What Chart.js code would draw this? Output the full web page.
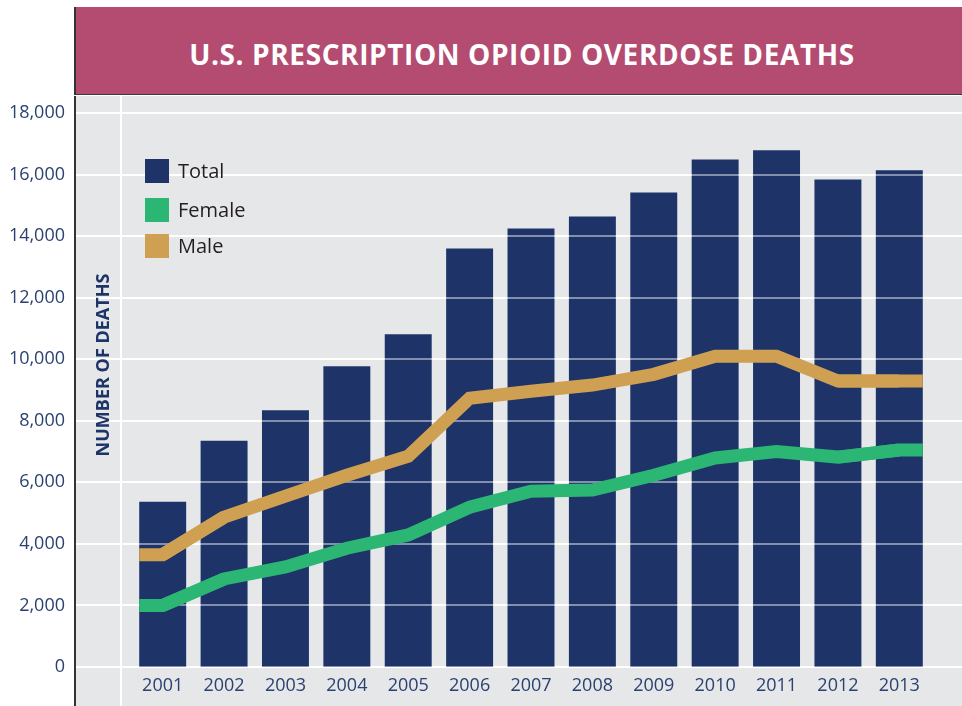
<!DOCTYPE html>
<html>
<head>
<meta charset="utf-8">
<script src="https://cdn.jsdelivr.net/npm/chart.js@4/dist/chart.umd.min.js"></script>
<style>
  body { margin: 0; background: #fff; font-family: 'Open Sans', sans-serif; }
  #wrap { position: relative; width: 962px; height: 706px; overflow: hidden; }
  #banner {
    position: absolute; left: 74px; top: 7px; width: 888px; height: 88px;
    background: #b44c72; border-left: 2px solid #333; border-bottom: 1px solid #3a3a3a;
    box-sizing: border-box; color: #fff; font-weight: 700; font-size: 28px;
    letter-spacing: 0.6px; text-align: center; line-height: 88px; padding-left: 6px; padding-top: 3px;
  }
  #panel {
    position: absolute; left: 74px; top: 96px; width: 888px; height: 610px;
    background: #e6e7e9; border-left: 2px solid #333; box-sizing: border-box;
  }
  #vline { position: absolute; left: 120px; top: 96px; width: 2px; height: 610px; background: #fff; }
  canvas { position: absolute; left: 0; top: 0; }
</style>
</head>
<body>
<div id="wrap">
  <div id="banner">U.S. PRESCRIPTION OPIOID OVERDOSE DEATHS</div>
  <div id="panel"></div>
  <div id="vline"></div>
  <canvas id="opioidChart" width="962" height="706"></canvas>
</div>
<script>
const years = ["2001", "2002", "2003", "2004", "2005", "2006", "2007", "2008", "2009", "2010", "2011", "2012", "2013"];
const totalDeaths = [5370, 7350, 8340, 9770, 10810, 13600, 14250, 14640, 15420, 16490, 16790, 15840, 16140];
const femaleDeaths = [2000, 2860, 3250, 3860, 4290, 5190, 5710, 5750, 6230, 6790, 7000, 6820, 7050];
const maleDeaths = [3650, 4870, 5550, 6230, 6850, 8730, 8960, 9160, 9510, 10100, 10100, 9290, 9290];
const yTicks = [0, 2000, 4000, 6000, 8000, 10000, 12000, 14000, 16000, 18000];

const navy = "#1e3469";
const green = "#2bb673";
const tan = "#cfa052";
const tickColor = "#2b4170";

Chart.defaults.font.family = "'Open Sans', sans-serif";

function drawGridLines(chart, color) {
  const ctx = chart.ctx;
  const y = chart.scales.y;
  ctx.save();
  ctx.strokeStyle = color;
  ctx.lineWidth = 2;
  yTicks.forEach(v => {
    const py = Math.round(y.getPixelForValue(v));
    ctx.beginPath();
    ctx.moveTo(76, py);
    ctx.lineTo(962, py);
    ctx.stroke();
  });
  ctx.restore();
}

// carries each line out to the outer edges of the first and last bars
function drawLineEnds(chart, index) {
  const ds = chart.data.datasets[index];
  const pts = chart.getDatasetMeta(index).data;
  const half = chart.getDatasetMeta(0).data[0].width / 2;
  const ctx = chart.ctx;
  const a = pts[0], b = pts[1];
  const c = pts[pts.length - 2], d = pts[pts.length - 1];
  ctx.save();
  ctx.strokeStyle = ds.borderColor;
  ctx.lineWidth = ds.borderWidth;
  ctx.lineJoin = "miter";
  ctx.beginPath();
  ctx.moveTo(a.x - half, a.y);
  ctx.lineTo(a.x, a.y);
  ctx.lineTo(b.x, b.y);
  ctx.stroke();
  ctx.beginPath();
  ctx.moveTo(c.x, c.y);
  ctx.lineTo(d.x, d.y);
  ctx.lineTo(d.x + half, d.y);
  ctx.stroke();
  ctx.restore();
}

const panelPlugin = {
  id: "panelPlugin",
  beforeDatasetsDraw(chart) {
    drawGridLines(chart, "#ffffff");
  },
  beforeDatasetDraw(chart, args) {
    if (args.index > 0) drawLineEnds(chart, args.index);
  },
  afterDatasetDraw(chart, args) {
    if (args.index === 0) drawGridLines(chart, "rgba(255,255,255,0.45)");
  },
  afterDraw(chart) {
    const ctx = chart.ctx;
    ctx.save();
    // legend
    const rows = [0, 1, 2];
    const tops = [159, 198, 234];
    ctx.font = "20px 'Open Sans', sans-serif";
    ctx.textBaseline = "middle";
    rows.forEach((i, k) => {
      const ds = chart.data.datasets[i];
      ctx.fillStyle = ds.legendColor;
      ctx.fillRect(145, tops[k], 24, 24);
      ctx.fillStyle = "#231f20";
      ctx.fillText(ds.label, 178, tops[k] + 13);
    });
    // axis title
    ctx.translate(104, 365);
    ctx.rotate(-Math.PI / 2);
    ctx.font = "bold 18px 'Open Sans', sans-serif";
    ctx.fillStyle = navy;
    ctx.textAlign = "center";
    ctx.fillText("NUMBER OF DEATHS", 0, 0);
    ctx.restore();
  }
};

new Chart(document.getElementById("opioidChart"), {
  type: "bar",
  data: {
    labels: years,
    datasets: [
      {
        label: "Total",
        data: totalDeaths,
        backgroundColor: navy,
        legendColor: navy,
        categoryPercentage: 1,
        barPercentage: 0.765,
        order: 3
      },
      {
        type: "line",
        label: "Female",
        data: femaleDeaths,
        borderColor: green,
        legendColor: green,
        borderWidth: 13,
        pointRadius: 0,
        tension: 0,
        order: 1
      },
      {
        type: "line",
        label: "Male",
        data: maleDeaths,
        borderColor: tan,
        legendColor: tan,
        borderWidth: 13,
        pointRadius: 0,
        tension: 0,
        order: 2
      }
    ]
  },
  options: {
    responsive: false,
    animation: false,
    layout: { padding: { left: 10, right: 32, top: 113, bottom: 0 } },
    plugins: {
      legend: { display: false },
      tooltip: { enabled: false }
    },
    scales: {
      x: {
        grid: { display: false, drawTicks: false },
        border: { display: false },
        ticks: { color: tickColor, font: { size: 18 }, padding: 8 },
        afterFit(scale) { scale.height = 39; }
      },
      y: {
        min: 0,
        max: 18000,
        grid: { display: false, drawTicks: true, tickLength: 63 },
        border: { display: false },
        ticks: {
          stepSize: 2000,
          color: tickColor,
          font: { size: 18 },
          padding: 4,
          callback: v => v.toLocaleString("en-US")
        },
        afterFit(scale) { scale.width = 122; }
      }
    }
  },
  plugins: [panelPlugin]
});
</script>
</body>
</html>
